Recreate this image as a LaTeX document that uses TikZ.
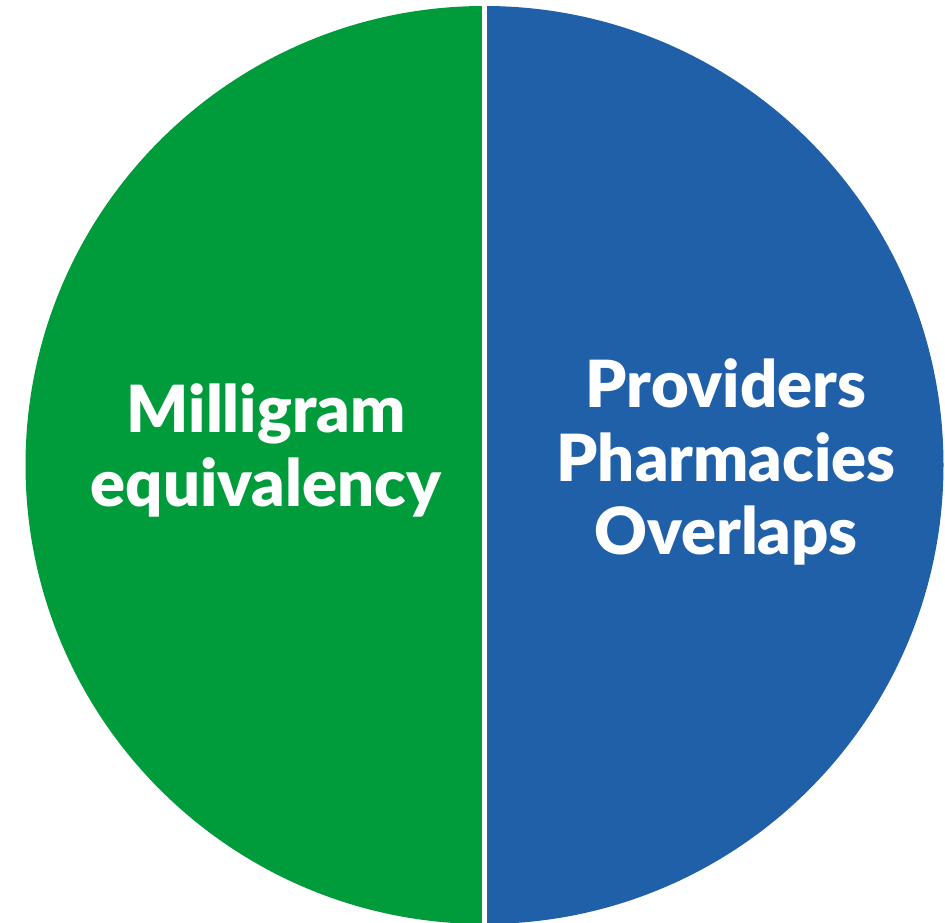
\documentclass[tikz,border=0pt]{standalone}
\usepackage{fontspec}
\setmainfont{Lato}
\newfontfamily\lblfont{Lato Black}
\definecolor{pgreen}{RGB}{0,155,58}
\definecolor{pblue}{RGB}{32,96,168}
\begin{document}
\begin{tikzpicture}[x=1pt,y=1pt,
  lbl/.style={text=white,font=\lblfont\fontsize{65}{74}\selectfont,anchor=base,inner sep=0pt}]
\useasboundingbox (0,0) rectangle (945,923);
\clip (0,0) rectangle (945,923);
\coordinate (c) at (484.5,458);
\fill[pgreen] (484.5,917) arc[start angle=90,end angle=270,radius=459] -- cycle;
\fill[pblue] (484.5,917) arc[start angle=90,end angle=-90,radius=459] -- cycle;
\draw[white,line width=5] (484.5,930) -- (484.5,-10);
\node[lbl] (m1) at (266,490) {Milligram};
\node[lbl] (m2) at (266,416) {equivalency};
\node[lbl] (p1) at (726,515) {Providers};
\node[lbl] (p2) at (726,441) {Pharmacies};
\node[lbl] (p3) at (726,368) {Overlaps};
\end{tikzpicture}
\end{document}
